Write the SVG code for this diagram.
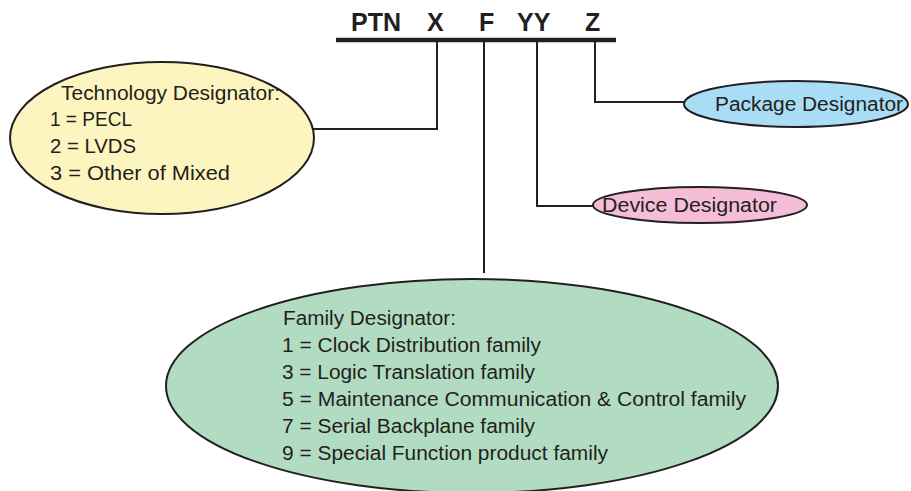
<svg xmlns="http://www.w3.org/2000/svg" width="911" height="491" viewBox="0 0 911 491">
  <style>
    .lbl { font-family: "Liberation Sans", Arial, sans-serif; font-size: 20px; fill: #231f20; }
    .code { font-family: "Liberation Sans", Arial, sans-serif; font-size: 25px; font-weight: bold; fill: #231f20; }
    .shape { stroke: #231f20; stroke-width: 2; }
    .wire { fill: none; stroke: #231f20; stroke-width: 2; }
  </style>
  <rect width="911" height="491" fill="#ffffff"/>

  <!-- part number header -->
  <g id="part-number">
    <text class="code" x="351" y="31">PTN</text>
    <text class="code" x="427" y="31">X</text>
    <text class="code" x="479" y="31">F</text>
    <text class="code" x="517" y="31">YY</text>
    <text class="code" x="585" y="31">Z</text>
    <line x1="336" y1="40" x2="616" y2="40" stroke="#231f20" stroke-width="4.5"/>
  </g>

  <!-- connectors from each field down to its designator -->
  <g id="connectors">
    <polyline class="wire" points="437,42 437,129 313,129"/>
    <line class="wire" x1="484" y1="42" x2="484" y2="273"/>
    <polyline class="wire" points="537,42 537,206 593,206"/>
    <polyline class="wire" points="595,42 595,102 684,102"/>
  </g>

  <g id="technology">
    <ellipse class="shape" cx="162" cy="138" rx="152" ry="76" fill="#fdf5bf"/>
    <text class="lbl" x="61" y="100" textLength="219" lengthAdjust="spacingAndGlyphs">Technology Designator:</text>
    <text class="lbl" x="50" y="126" textLength="82" lengthAdjust="spacingAndGlyphs">1 = PECL</text>
    <text class="lbl" x="50" y="153" textLength="86" lengthAdjust="spacingAndGlyphs">2 = LVDS</text>
    <text class="lbl" x="50" y="180" textLength="180" lengthAdjust="spacingAndGlyphs">3 = Other of Mixed</text>
  </g>

  <g id="package">
    <ellipse class="shape" cx="796" cy="104" rx="112" ry="23" fill="#a8ddf5"/>
    <text class="lbl" x="715" y="111" textLength="188" lengthAdjust="spacingAndGlyphs">Package Designator</text>
  </g>

  <g id="device">
    <ellipse class="shape" cx="700" cy="205" rx="107" ry="18" fill="#f6bdd8"/>
    <text class="lbl" x="602" y="212" textLength="175" lengthAdjust="spacingAndGlyphs">Device Designator</text>
  </g>

  <g id="family">
    <ellipse class="shape" cx="472" cy="386" rx="306" ry="107" fill="#b1dcc2"/>
    <text class="lbl" x="283" y="325" textLength="173" lengthAdjust="spacingAndGlyphs">Family Designator:</text>
    <text class="lbl" x="282" y="352" textLength="259" lengthAdjust="spacingAndGlyphs">1 = Clock Distribution family</text>
    <text class="lbl" x="282" y="379" textLength="253" lengthAdjust="spacingAndGlyphs">3 = Logic Translation family</text>
    <text class="lbl" x="282" y="406" textLength="464" lengthAdjust="spacingAndGlyphs">5 = Maintenance Communication &amp; Control family</text>
    <text class="lbl" x="282" y="433" textLength="253" lengthAdjust="spacingAndGlyphs">7 = Serial Backplane family</text>
    <text class="lbl" x="282" y="460" textLength="326" lengthAdjust="spacingAndGlyphs">9 = Special Function product family</text>
  </g>
</svg>
